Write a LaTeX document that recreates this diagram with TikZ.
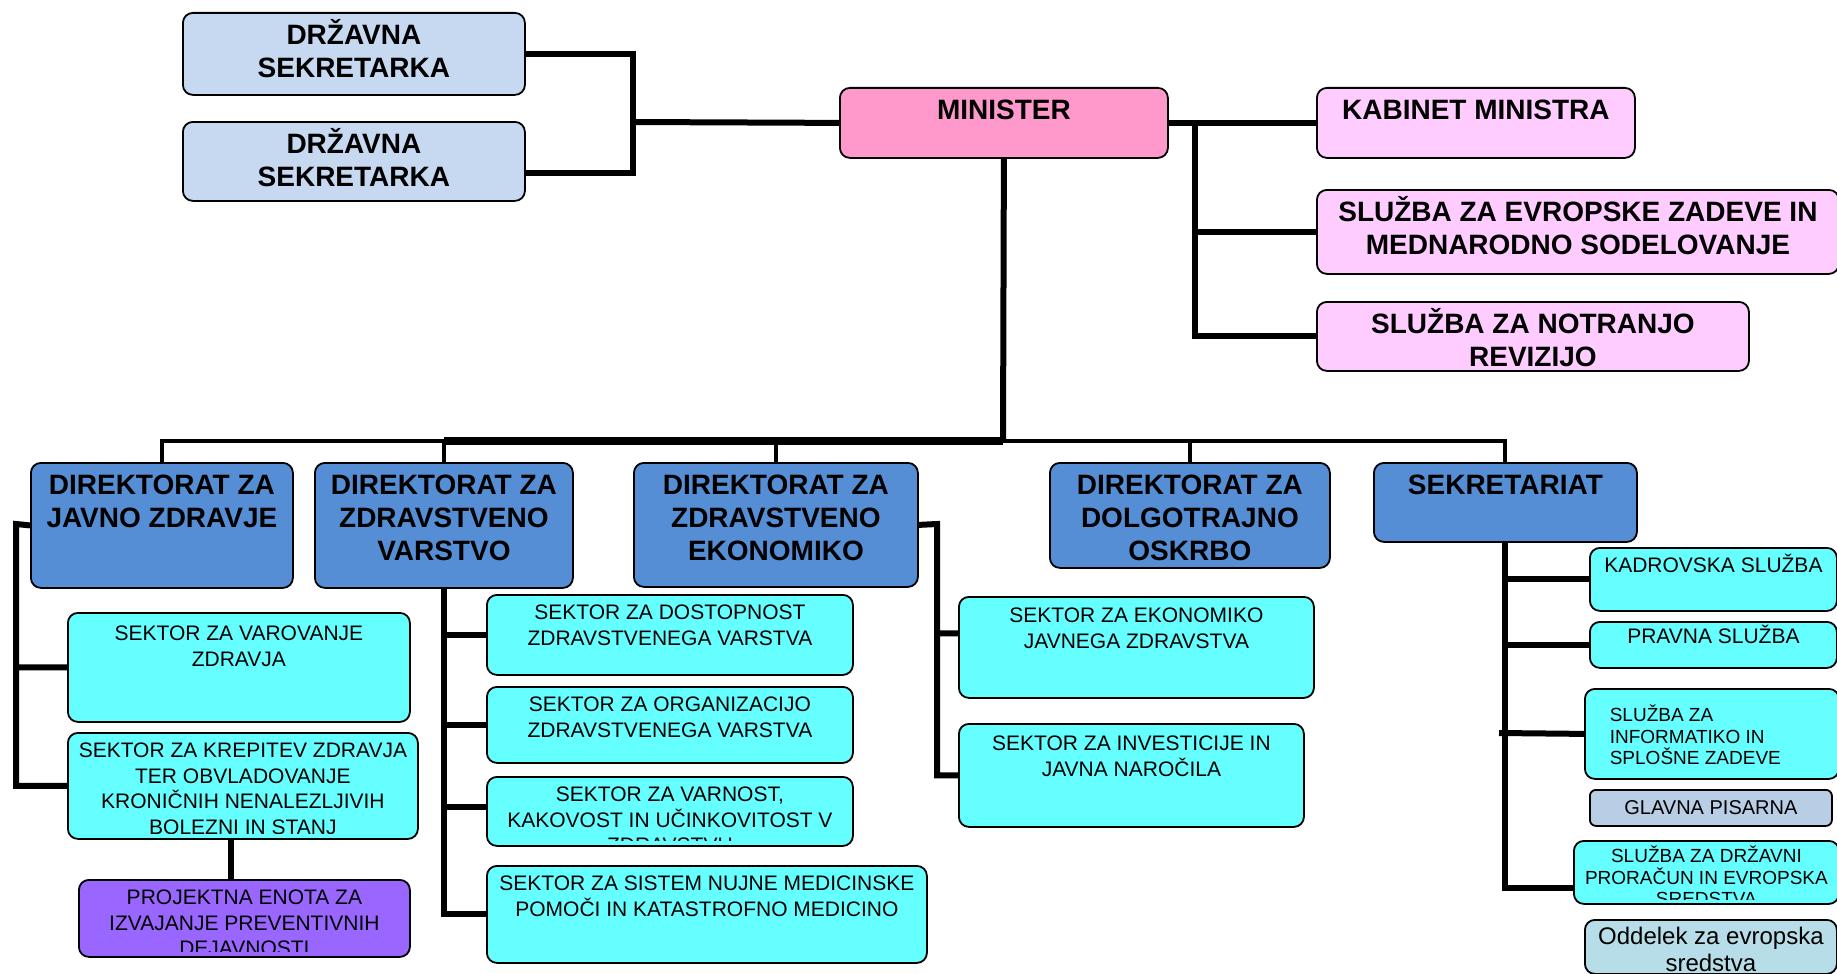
\documentclass[tikz,border=0pt]{standalone}
\usepackage{fontspec}
\setmainfont{Liberation Sans}
\usetikzlibrary{positioning}
\definecolor{drzblue}{HTML}{C6D9F1}
\definecolor{minpink}{HTML}{FF99CC}
\definecolor{kabpink}{HTML}{FFCCFF}
\definecolor{dirblue}{HTML}{558ED5}
\definecolor{seccyan}{HTML}{66FFFF}
\definecolor{projviolet}{HTML}{9966FF}
\definecolor{pisgray}{HTML}{B9CDE5}
\definecolor{oddteal}{HTML}{B7DEE8}
\tikzset{
  unit/.style={draw=black,line width=1.8pt,fill=#1,rounded corners=10pt,
    inner sep=0pt,anchor=north west},
  unit/.default=seccyan,
  tdrop/.store in=\tdrop,
  tdrop=-3pt,
  intext/.style={inner sep=0pt,minimum width=0pt,minimum height=0pt,
    text=black,draw=none,fill=none},
  % text sits at the top of the box, clipped a bit above its bottom
  head/.style={path picture={\node[intext,anchor=north,align=center,
      font=\bfseries\fontsize{28}{33}\selectfont]
      at ([yshift=\tdrop]path picture bounding box.north) {\rule{0pt}{1em}#1};}},
  sec/.style={path picture={
      \clip (path picture bounding box.north west) rectangle ([yshift=5pt]path picture bounding box.south east);
      \node[intext,anchor=north,align=center,
      font=\fontsize{21}{25.5}\selectfont]
      at ([yshift=\tdrop]path picture bounding box.north) {\rule{0pt}{1em}#1};}},
  sml/.style={path picture={
      \clip (path picture bounding box.north west) rectangle ([yshift=4pt]path picture bounding box.south east);
      \node[intext,anchor=north,align=center,
      font=\fontsize{19}{21.5}\selectfont]
      at ([yshift=\tdrop]path picture bounding box.north) {\rule{0pt}{1em}#1};}},
  conn/.style={line width=6pt},
  busline/.style={line width=4pt},
  busfat/.style={line width=8.5pt},
}
\begin{document}
\begin{tikzpicture}[x=1pt,y=1pt]
  \useasboundingbox (0,0) rectangle (1837,-974);
  % top level
  \node[unit=drzblue,head={DRŽAVNA\\SEKRETARKA},minimum width=342pt,minimum height=82pt] (dr1) at (182,-12) {};
  \node[unit=drzblue,head={DRŽAVNA\\SEKRETARKA},minimum width=342pt,minimum height=79pt] (dr2) at (182,-121) {};
  \node[unit=minpink,head={MINISTER},minimum width=328pt,minimum height=70pt] (min) at (839,-87) {};
  \node[unit=kabpink,head={KABINET MINISTRA},minimum width=318pt,minimum height=70pt] (kab) at (1316,-87) {};
  \node[unit=kabpink,head={SLUŽBA ZA EVROPSKE ZADEVE IN\\MEDNARODNO SODELOVANJE},minimum width=522pt,minimum height=84pt] (evr) at (1316,-189) {};
  \node[unit=kabpink,head={SLUŽBA ZA NOTRANJO\\REVIZIJO},minimum width=432pt,minimum height=69pt] (rev) at (1316,-301) {};
  % directorates
  \node[unit=dirblue,head={DIREKTORAT ZA\\JAVNO ZDRAVJE},minimum width=262pt,minimum height=125pt] (dJZ) at (30,-462) {};
  \node[unit=dirblue,head={DIREKTORAT ZA\\ZDRAVSTVENO\\VARSTVO},minimum width=258pt,minimum height=125pt] (dZV) at (314,-462) {};
  \node[unit=dirblue,head={DIREKTORAT ZA\\ZDRAVSTVENO\\EKONOMIKO},minimum width=284pt,minimum height=124pt] (dEK) at (633,-462) {};
  \node[unit=dirblue,head={DIREKTORAT ZA\\DOLGOTRAJNO\\OSKRBO},minimum width=280pt,minimum height=105pt] (dDO) at (1049,-462) {};
  \node[unit=dirblue,head={SEKRETARIAT},minimum width=263pt,minimum height=79pt] (dSK) at (1373,-462) {};
  % sectors
  \node[unit,tdrop=-6pt,sec={SEKTOR ZA VAROVANJE\\ZDRAVJA},minimum width=342pt,minimum height=109pt] (sVA) at (67,-612) {};
  \node[unit,sec={SEKTOR ZA KREPITEV ZDRAVJA\\TER OBVLADOVANJE\\KRONIČNIH NENALEZLJIVIH\\BOLEZNI IN STANJ},minimum width=350pt,minimum height=106pt] (sKR) at (67,-732) {};
  \node[unit=projviolet,sec={PROJEKTNA ENOTA ZA\\IZVAJANJE PREVENTIVNIH\\DEJAVNOSTI},minimum width=331pt,minimum height=77pt] (sPR) at (78,-879) {};
  \node[unit,sec={SEKTOR ZA DOSTOPNOST\\ZDRAVSTVENEGA VARSTVA},minimum width=366pt,minimum height=80pt] (sDO) at (486,-594) {};
  \node[unit,sec={SEKTOR ZA ORGANIZACIJO\\ZDRAVSTVENEGA VARSTVA},minimum width=366pt,minimum height=76pt] (sOR) at (486,-686) {};
  \node[unit,sec={SEKTOR ZA VARNOST,\\KAKOVOST IN UČINKOVITOST V\\ZDRAVSTVU},minimum width=366pt,minimum height=69pt] (sVR) at (486,-776) {};
  \node[unit,sec={SEKTOR ZA SISTEM NUJNE MEDICINSKE\\POMOČI IN KATASTROFNO MEDICINO},minimum width=440pt,minimum height=97pt] (sSI) at (486,-865) {};
  \node[unit,tdrop=-4pt,sec={SEKTOR ZA EKONOMIKO\\JAVNEGA ZDRAVSTVA},minimum width=355pt,minimum height=101pt] (sEJ) at (958,-596) {};
  \node[unit,tdrop=-5pt,sec={SEKTOR ZA INVESTICIJE IN\\JAVNA NAROČILA},minimum width=345pt,minimum height=103pt] (sIN) at (958,-723) {};
  % secretariat services
  \node[unit,sec={KADROVSKA SLUŽBA},minimum width=247pt,minimum height=63pt] (sKA) at (1589,-547) {};
  \node[unit,tdrop=0pt,sec={PRAVNA SLUŽBA},minimum width=247pt,minimum height=46pt] (sPV) at (1589,-621) {};
  \node[unit,minimum width=254pt,minimum height=90pt,
    path picture={\node[intext,anchor=north west,align=left,font=\fontsize{19}{21.5}\selectfont]
      at ([xshift=24pt,yshift=-13pt]path picture bounding box.north west)
      {\rule{0pt}{1em}SLUŽBA ZA\\INFORMATIKO IN\\SPLOŠNE ZADEVE};}] (sIF) at (1584,-688) {};
  \node[unit=pisgray,rounded corners=6pt,font=\fontsize{20}{24}\selectfont,minimum width=242pt,minimum height=36pt] (gp) at (1589,-789) {GLAVNA PISARNA};
  \node[unit,tdrop=-2pt,sml={SLUŽBA ZA DRŽAVNI\\PRORAČUN IN EVROPSKA\\SREDSTVA},minimum width=265pt,minimum height=63pt] (sDP) at (1573,-840) {};
  \node[unit=oddteal,minimum width=252pt,minimum height=54pt,
    path picture={\node[intext,anchor=north,align=center,font=\fontsize{24}{27}\selectfont]
      at (path picture bounding box.north) {\rule{0pt}{1em}Oddelek za evropska\\sredstva};}] (odd) at (1584,-919) {};

  % connectors: state secretaries, cabinet
  \coordinate (dj) at (633,-122);
  \draw[conn] (dr1.east) -| (dj) |- ([yshift=-12pt]dr2.east);
  \draw[conn] (dj) -- (min.west);
  \coordinate (mj) at (1195,-122);
  \draw[conn] (min.east) -- (kab.west);
  \draw[conn] (mj) |- (evr.west) (mj) |- (rev.west);
  % bus to directorates
  \coordinate (bus) at (1003,-441);
  \draw[conn] (min.south) -- (bus);
  \draw[busline] (dZV.north) -- (dZV.north |- bus) -| (dJZ.north);
  \draw[busline] (bus) -| (dSK.north);
  \draw[busline] (dEK.north) -- (dEK.north |- bus) (dDO.north) -- (dDO.north |- bus);
  \draw[busfat] (bus) -- (bus -| dZV.north);
  % public health
  \coordinate (jv) at (16,-524);
  \draw[conn] (dJZ.west) -- (jv) |- (sVA.west) (jv) |- (sKR.west);
  \draw[conn] ([xshift=-12pt]sKR.south) -- ([xshift=-13.5pt]sPR.north);
  % health care
  \draw[conn] (dZV.south) |- (sSI.west) (dZV.south) |- (sDO.west)
    (dZV.south) |- (sOR.west) (dZV.south) |- ([yshift=4pt]sVR.west);
  % economics
  \coordinate (ej) at (937,-524);
  \draw[conn] (dEK.east) -- (ej) |- ([yshift=14pt]sEJ.west) (ej) |- (sIN.west);
  % secretariat
  \draw[conn] (dSK.south) |- ([yshift=-16pt]sDP.west) (dSK.south) |- (sKA.west)
    (dSK.south) |- (sPV.west);
  \coordinate (sj) at (1499,-733);
  \draw[conn] (sj) -- (sIF.west);
\end{tikzpicture}
\end{document}
